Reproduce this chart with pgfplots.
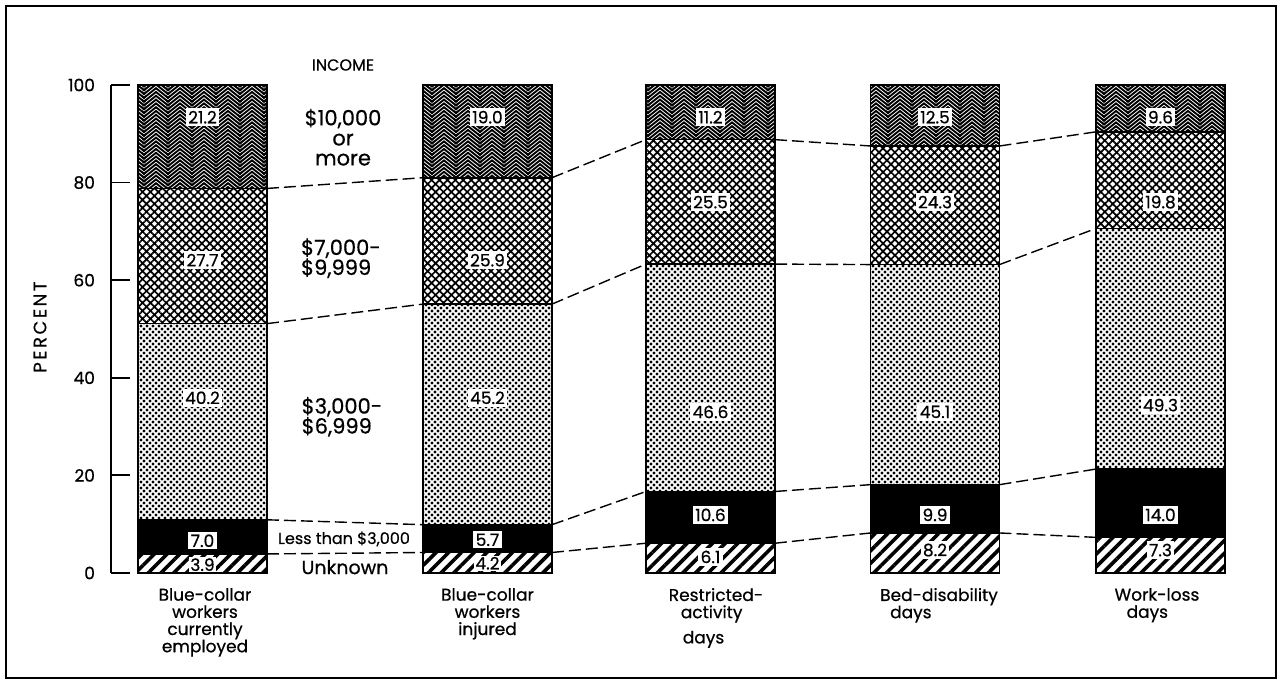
\documentclass[border=0pt]{standalone}
\usepackage{pgfplots}
\pgfplotsset{compat=1.18}
\usepackage{fontspec}
\setmainfont{Poppins}[FakeBold=0.6]
\newfontfamily\spaced{Poppins}[LetterSpace=14,FakeBold=0.6]
\usetikzlibrary{patterns,patterns.meta}

\pgfdeclarepatternformonly{zigzag}{\pgfpoint{-1pt}{-1pt}}{\pgfpoint{13pt}{6pt}}{\pgfpoint{12pt}{1.9pt}}{%
  \pgfsetlinewidth{0.95pt}%
  \pgfpathmoveto{\pgfpoint{-1.2pt}{1pt}}%
  \pgfpathlineto{\pgfpoint{0pt}{0pt}}%
  \pgfpathlineto{\pgfpoint{6pt}{4.8pt}}%
  \pgfpathlineto{\pgfpoint{12pt}{0pt}}%
  \pgfpathlineto{\pgfpoint{13.2pt}{1pt}}%
  \pgfusepath{stroke}}

\pgfdeclarepatternformonly{mydots}{\pgfpoint{-1pt}{-1pt}}{\pgfpoint{4pt}{4pt}}{\pgfpoint{3pt}{3pt}}{%
  \pgfpathcircle{\pgfpoint{0pt}{0pt}}{0.78pt}%
  \pgfpathcircle{\pgfpoint{1.5pt}{1.5pt}}{0.78pt}%
  \pgfusepath{fill}}

\pgfplotstableread{
x      unk  lt3   mid   hi    top
202.5  3.9  7.0   40.2  27.7  21.2
487.5  4.2  5.7   45.2  25.9  19.0
710.5  6.1  10.6  46.6  25.5  11.2
935    8.2  9.9   45.1  24.3  12.5
1160.5 7.3  14.0  49.3  19.8  9.6
}\incometable

\begin{document}
\begin{tikzpicture}
\pgfplotsset{
  base/.style={scale only axis, width=564.5pt, height=244pt,
    xmin=111, xmax=1240, ymin=0, ymax=100, clip=false},
}
% bars
\begin{axis}[base, hide axis, ybar stacked, bar width=129]
\addplot[draw=black, line width=0.8pt, pattern={Lines[angle=45,distance=4.5pt,line width=1.8pt]}] table[x=x,y=unk] {\incometable};
\addplot[draw=black, line width=0.8pt, fill=black] table[x=x,y=lt3] {\incometable};
\addplot[draw=black, line width=0.8pt, pattern=mydots] table[x=x,y=mid] {\incometable};
\addplot[draw=black, line width=0.8pt, pattern={Hatch[angle=45,distance=2.8pt,line width=0.85pt]}] table[x=x,y=hi] {\incometable};
\addplot[draw=black, line width=0.8pt, pattern=zigzag] table[x=x,y=top] {\incometable};
\end{axis}

% axis, connectors, labels
\begin{axis}[base, axis x line=none, axis y line=left,
  axis line style={-, line width=0.9pt},
  ytick={0,20,...,100}, tick align=inside, major tick length=9.5pt,
  tick style={line width=0.9pt, black},
  yticklabel style={font=\fontsize{8.5}{9}\selectfont, xshift=-4.5pt},
  /pgf/number format/assume math mode=true,
  unbounded coords=jump]
\addplot[black, line width=0.7pt, dash pattern=on 6pt off 2.5pt] coordinates {
  (267,3.9) (423,4.2) (423,nan)
  (267,10.9) (423,9.9) (423,nan)
  (267,51.1) (423,55.1) (423,nan)
  (267,78.8) (423,81.0) (423,nan)
  (552,4.2) (646,6.1) (646,nan)
  (552,9.9) (646,16.7) (646,nan)
  (552,55.1) (646,63.3) (646,nan)
  (552,81.0) (646,88.8) (646,nan)
  (775,6.1) (870.5,8.2) (870.5,nan)
  (775,16.7) (870.5,18.1) (870.5,nan)
  (775,63.3) (870.5,63.2) (870.5,nan)
  (775,88.8) (870.5,87.5) (870.5,nan)
  (999.5,8.2) (1096,7.3) (1096,nan)
  (999.5,18.1) (1096,21.3) (1096,nan)
  (999.5,63.2) (1096,70.6) (1096,nan)
  (999.5,87.5) (1096,90.4)
};
\tikzset{lbl/.style={fill=white, inner sep=1.2pt, font=\fontsize{8.5}{9}\selectfont}}
% bar 1
\node[lbl] at (axis cs:202.5,93.4) {21.2};
\node[lbl] at (axis cs:202.5,64.1) {27.7};
\node[lbl] at (axis cs:202.5,35.9) {40.2};
\node[lbl] at (axis cs:202.5,6.6) {7.0};
\node[lbl, inner sep=0.6pt] at (axis cs:202.5,1.7) {3.9};
% bar 2
\node[lbl] at (axis cs:487.5,93.4) {19.0};
\node[lbl] at (axis cs:487.5,64.1) {25.9};
\node[lbl] at (axis cs:487.5,35.9) {45.2};
\node[lbl] at (axis cs:487.5,6.8) {5.7};
\node[lbl, inner sep=0.6pt] at (axis cs:487.5,2.0) {4.2};
% bar 3
\node[lbl] at (axis cs:710.5,93.4) {11.2};
\node[lbl] at (axis cs:710.5,76) {25.5};
\node[lbl] at (axis cs:710.5,33) {46.6};
\node[lbl] at (axis cs:710.5,11.9) {10.6};
\node[lbl] at (axis cs:710.5,3.3) {6.1};
% bar 4
\node[lbl] at (axis cs:935,93.4) {12.5};
\node[lbl] at (axis cs:935,76) {24.3};
\node[lbl] at (axis cs:935,33) {45.1};
\node[lbl] at (axis cs:935,11.9) {9.9};
\node[lbl] at (axis cs:935,4.7) {8.2};
% bar 5
\node[lbl] at (axis cs:1160.5,93.4) {9.6};
\node[lbl] at (axis cs:1160.5,76) {19.8};
\node[lbl] at (axis cs:1160.5,34.4) {49.3};
\node[lbl] at (axis cs:1160.5,11.9) {14.0};
\node[lbl] at (axis cs:1160.5,4.7) {7.3};
% middle legend texts
\node[font=\fontsize{8}{8}\selectfont] at (axis cs:343,104.1) {INCOME};
\node[align=center, font=\fontsize{10.5}{10}\selectfont] at (axis cs:343,89.3) {\$10,000\\or\\more};
\node[align=left, font=\fontsize{10.5}{10}\selectfont] at (axis cs:341,64.5) {\$7,000-\\\$9,999};
\node[align=left, font=\fontsize{10.5}{10}\selectfont] at (axis cs:342,32.0) {\$3,000-\\\$6,999};
\node[font=\fontsize{8}{8}\selectfont] at (axis cs:344,7.0) {Less than \$3,000};
\node[font=\fontsize{9.5}{10}\selectfont] at (axis cs:345,1.2) {Unknown};
% category labels
\tikzset{cat/.style={anchor=north, font=\fontsize{8.5}{8.6}\selectfont}}
\node[cat, align=center] at (axis cs:205,0) [yshift=-4pt] {Blue-collar\\workers\\currently\\employed};
\node[cat, align=center] at (axis cs:487.5,0) [yshift=-4pt] {Blue-collar\\workers\\injured};
\node[cat, align=left] at (axis cs:716,0) [yshift=-4pt] {Restricted-\\\hspace*{6pt}activity\\[4pt]\hspace*{7pt}days};
\node[cat, align=left] at (axis cs:939,0) [yshift=-4pt] {Bed-disability\\\hspace*{5pt}days};
\node[cat, align=left] at (axis cs:1157,0) [yshift=-4pt] {Work-loss\\\hspace*{6pt}days};
% y label
\node[rotate=90, font=\spaced\fontsize{9}{10}\selectfont] at (axis cs:40,50.4) {PERCENT};
\end{axis}
% outer frame and page size
\path (-55.5pt,-55pt) rectangle (585pt,286.5pt);
\draw[line width=0.7pt] (-52.5pt,-52.5pt) rectangle (582.5pt,283.5pt);
\end{tikzpicture}
\end{document}
